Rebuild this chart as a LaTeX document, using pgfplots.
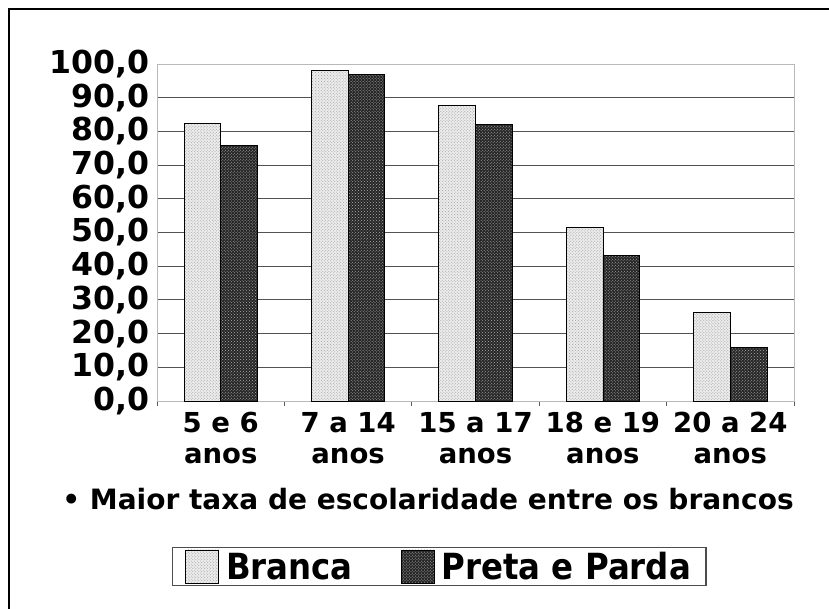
\documentclass[border=0pt]{standalone}
\usepackage{fontspec}
\setmainfont{DejaVu Sans}
\newfontfamily\condfont[FakeStretch=0.9]{DejaVu Sans}
\usepackage{pgfplots}
\pgfplotsset{compat=1.18}
\usetikzlibrary{patterns}

\begin{document}
\begin{tikzpicture}
\useasboundingbox (0,0) rectangle (829bp,-609bp);
\draw[line width=2.5bp] (9bp,-612bp) -- (9bp,-9bp) -- (832bp,-9bp);
\begin{axis}[
  at={(157bp,-401bp)}, anchor=south west,
  scale only axis, width=637bp, height=337bp,
  xmin=-0.5, xmax=4.5, ymin=0, ymax=100,
  ybar=0pt, bar width=36.7bp,
  xtick={0,...,4},
  xticklabels={{5 e 6\\anos},{7 a 14\\anos},{15 a 17\\anos},{18 e 19\\anos},{20 a 24\\anos}},
  xticklabel style={align=center, yshift=-8bp, font=\bfseries\fontsize{27.5bp}{30.5bp}\selectfont},
  minor xtick={-0.5,0.5,...,4.5},
  xtick pos=left, ytick pos=left,
  major tick length=0pt, minor tick length=5bp, tick align=outside,
  minor tick style={draw=gray!70!black, line width=0.8bp},
  ytick={0,10,...,100},
  ymajorgrids, grid style={gray!65!black, line width=1bp},
  axis line style={gray!55, line width=1bp},
  /pgf/number format/assume math mode=true,
  yticklabel style={/pgf/number format/fixed, /pgf/number format/fixed zerofill,
    /pgf/number format/precision=1, /pgf/number format/use comma,
    xshift=-4bp,
    font=\bfseries\fontsize{31.6bp}{32bp}\selectfont},
  xlabel={• Maior taxa de escolaridade entre os brancos},
  xlabel style={at={(rel axis cs:0.4254,-0.3234)}, anchor=base,
    font=\bfseries\fontsize{28bp}{30bp}\selectfont},
  legend style={at={(0.443,-0.433)}, anchor=north, legend columns=2,
    draw=black!70, line width=1.2bp, inner xsep=13bp,
    font=\condfont\bfseries\fontsize{36bp}{36bp}\selectfont,
    /tikz/every even column/.append style={column sep=46bp}},
  legend image code/.code={\draw[#1] (0bp,-16bp) rectangle (33bp,17bp);},
]
\addplot[draw=black, line width=0.8bp, fill=gray!15,
  postaction={pattern=crosshatch dots, pattern color=gray!75}]
  coordinates {(0,82.4) (1,98.2) (2,87.7) (3,51.4) (4,26.3)};
\addplot[draw=black, line width=0.8bp, fill=black!85,
  postaction={pattern=crosshatch dots, pattern color=white!70!black}]
  coordinates {(0,75.8) (1,96.9) (2,82.1) (3,43.2) (4,15.9)};
\legend{{\hspace{5bp}Branca},{\hspace{5bp}Preta e Parda}}
\end{axis}
\end{tikzpicture}
\end{document}
